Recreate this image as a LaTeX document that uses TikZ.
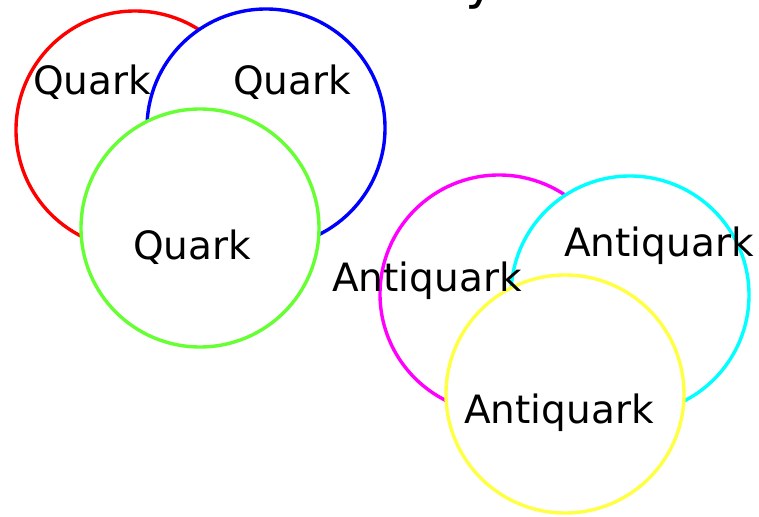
\documentclass[tikz,border=0pt]{standalone}
\usepackage{fontspec}
\setmainfont{DejaVu Sans}
\definecolor{qred}{RGB}{255,0,0}
\definecolor{qblue}{RGB}{0,0,255}
\definecolor{qgreen}{RGB}{102,255,51}
\definecolor{qmag}{RGB}{255,0,255}
\definecolor{qcyan}{RGB}{0,255,255}
\definecolor{qyel}{RGB}{255,255,68}
\begin{document}
\begin{tikzpicture}[x=1pt,y=-1pt,
  ring/.style={circle, minimum size=238pt, inner sep=0pt, fill=white, line width=3.4pt},
  lbl/.style={font=\fontsize{39}{41}\selectfont, inner sep=0pt, text=black}]
\useasboundingbox (0,0) rectangle (759,516);
\fill[white] (0,0) rectangle (759,516);
% quarks
\node[ring, draw=qred]   (cr) at (135,130) {};
\node[ring, draw=qblue]  (cb) at (266,128) {};
\node[ring, draw=qgreen] (cg) at (200,228) {};
% antiquarks
\node[ring, draw=qmag]   (cm) at (499,294) {};
\node[ring, draw=qcyan]  (cc) at (630,295) {};
\node[ring, draw=qyel]   (cy) at (565,394) {};
% labels
\node[lbl] (lr) at (92,82) {Quark};
\node[lbl] (lb) at (292,82) {Quark};
\node[lbl] (lg) at (192,247) {Quark};
\node[lbl] (lm) at (427,281) {Antiquark};
\node[lbl] (lc) at (659,246) {Antiquark};
\node[lbl] (ly) at (559,413) {Antiquark};
% cut-off title glyph
\node[font=\fontsize{52}{54}\selectfont, inner sep=0pt, anchor=base west] (title) at (465,-1) {y};
\end{tikzpicture}
\end{document}
